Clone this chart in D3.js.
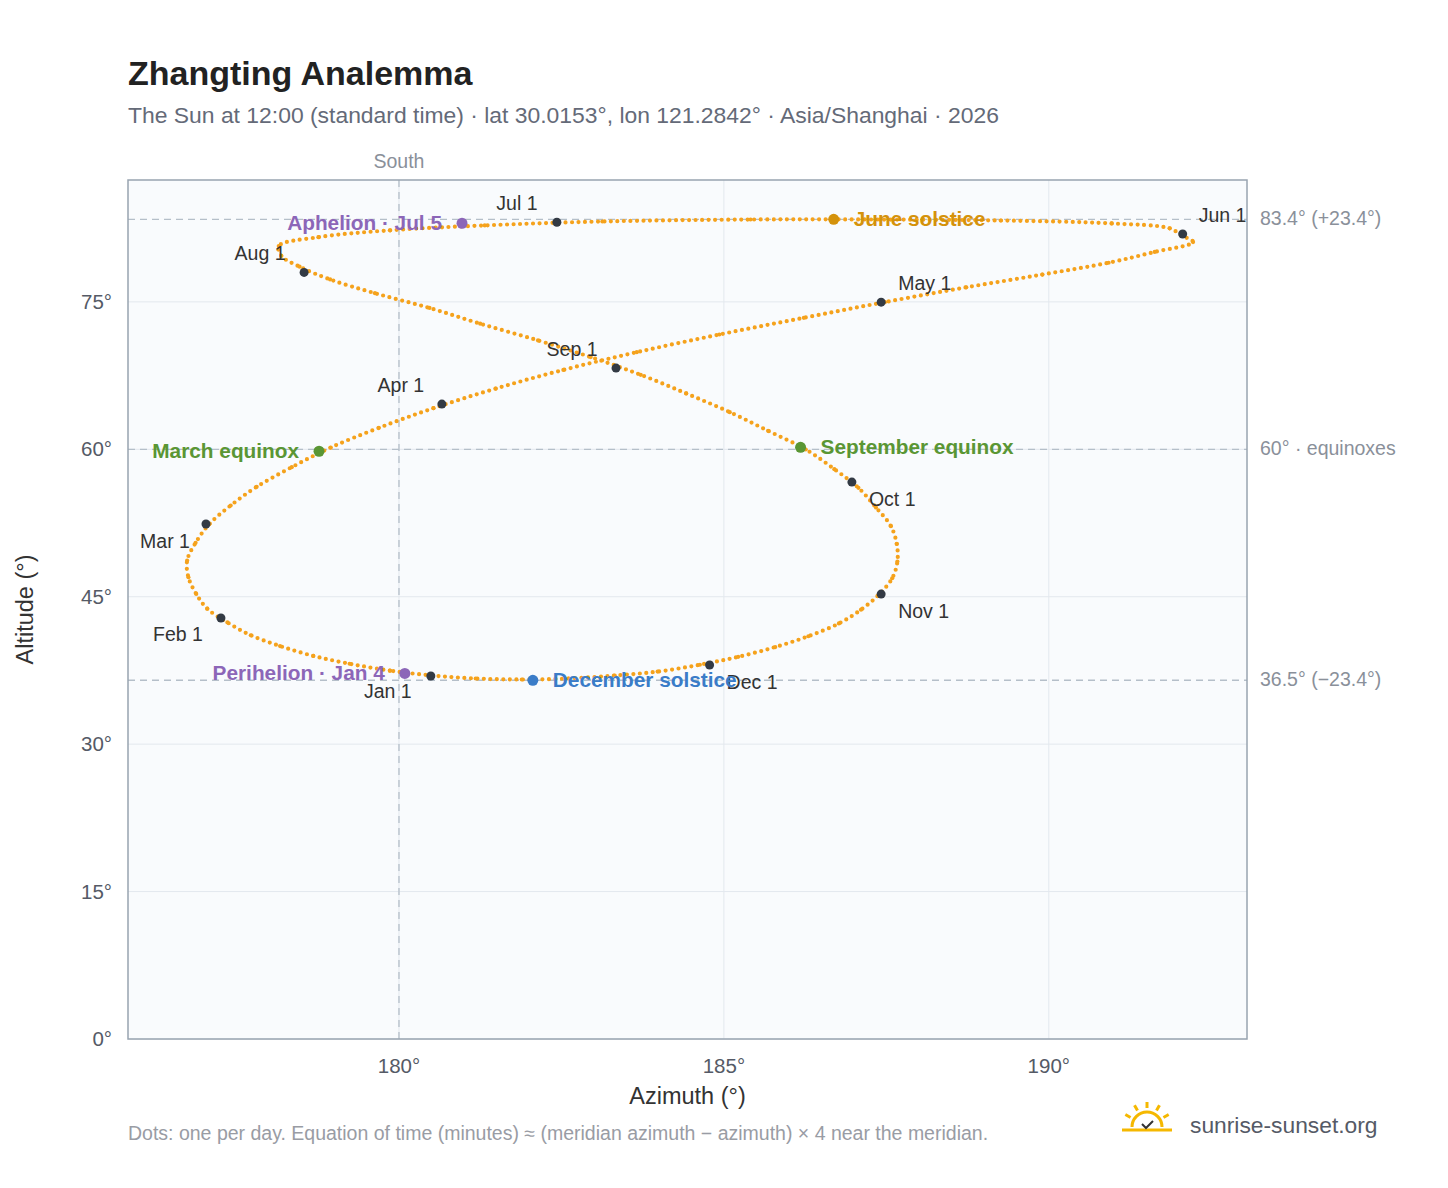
<!DOCTYPE html>
<html>
<head>
<meta charset="utf-8">
<script src="https://cdn.jsdelivr.net/npm/d3@7"></script>
<style>
  body { margin: 0; background: #fff; font-family: "Liberation Sans", Arial, sans-serif; }
</style>
</head>
<body>
<svg id="chart" width="1448" height="1188"></svg>
<script>
// sun position at 12:00, sampled every 5 days (azimuth °, altitude °)
const sampleAz = [180.52,179.86,179.24,178.68,178.17,177.72,177.36,177.05,176.88,176.76,176.74,176.87,177.08,177.41,177.81,178.35,178.95,179.69,180.53,181.49,182.53,183.66,184.93,186.23,187.48,188.73,189.90,190.92,191.63,192.22,192.04,191.86,190.97,189.26,187.40,185.41,183.13,181.32,179.86,178.76,178.15,178.19,178.47,178.94,179.63,180.47,181.25,182.14,182.95,183.72,184.42,185.09,185.68,186.26,186.70,187.07,187.34,187.57,187.66,187.67,187.59,187.38,187.11,186.77,186.30,185.79,185.22,184.63,183.98,183.32,182.61,181.89,181.18];
const sampleAlt = [36.98,37.48,38.18,38.98,39.98,41.08,42.38,43.78,45.28,46.98,48.68,50.48,52.38,54.28,56.18,58.18,60.18,62.18,64.18,66.18,68.08,69.88,71.68,73.38,74.98,76.48,77.78,78.98,80.08,81.08,81.78,82.48,82.98,83.28,83.38,83.38,83.18,82.78,82.28,81.58,80.68,79.68,78.58,77.28,75.88,74.38,72.78,71.08,69.38,67.58,65.68,63.78,61.88,59.98,57.98,56.08,54.08,52.18,50.38,48.58,46.88,45.18,43.68,42.28,40.98,39.88,38.88,38.08,37.38,36.98,36.68,36.58,36.68];

const monthLabels = ["Jan 1","Feb 1","Mar 1","Apr 1","May 1","Jun 1","Jul 1","Aug 1","Sep 1","Oct 1","Nov 1","Dec 1"];
const monthAz = [180.49,177.26,177.03,180.66,187.42,192.06,182.43,178.54,183.34,186.97,187.42,184.78];
const monthAlt = [36.93,42.83,52.4,64.6,74.97,81.9,83.1,78.0,68.26,56.66,45.27,38.05];
// label placement: [dx, dy, anchor]
const monthLabelPos = [[-43,16,"middle"],[-18,17,"end"],[-16,18,"end"],[-41,-18,"middle"],[17,-18,"start"],[16,-18,"start"],[-40,-18,"middle"],[-44,-18,"middle"],[-44,-18,"middle"],[17,18,"start"],[17,18,"start"],[17,18,"start"]];

const eventLabels = ["June solstice","March equinox","September equinox","December solstice","Aphelion · Jul 5","Perihelion · Jan 4"];
const eventAz = [186.69,178.77,186.18,182.06,180.97,180.09];
const eventAlt = [83.4,59.8,60.2,36.5,83.0,37.2];
const eventColors = ["#d4920b","#5a9634","#5a9634","#3a7cc8","#8c66b8","#8c66b8"];
const eventSide = ["start","end","start","start","end","end"];

const refAlts = [83.4,60,36.5];
const refLabels = ["83.4° (+23.4°)","60° · equinoxes","36.5° (−23.4°)"];
const xTicks = [180,185,190];
const yTicks = [0,15,30,45,60,75];

const svg = d3.select("#chart");
const m = {l:128, r:1247, t:180, b:1039};
const x = d3.scaleLinear().domain([175.83,193.05]).range([m.l,m.r]);
const y = d3.scaleLinear().domain([0,87.4]).range([m.b,m.t]);

svg.append("text").attr("x",128).attr("y",85).attr("font-size",34).attr("font-weight","bold").attr("fill","#222").text("Zhangting Analemma");
svg.append("text").attr("x",128).attr("y",123).attr("font-size",22.9).attr("fill","#646a78")
  .text("The Sun at 12:00 (standard time) · lat 30.0153°, lon 121.2842° · Asia/Shanghai · 2026");

svg.append("rect").attr("x",m.l).attr("y",m.t).attr("width",m.r-m.l).attr("height",m.b-m.t).attr("fill","#f9fbfd");

// grid
svg.selectAll(".gx").data(xTicks).join("line").attr("x1",d=>x(d)).attr("x2",d=>x(d)).attr("y1",m.t).attr("y2",m.b).attr("stroke","#e3e8ee");
svg.selectAll(".gy").data(yTicks).join("line").attr("y1",d=>y(d)).attr("y2",d=>y(d)).attr("x1",m.l).attr("x2",m.r).attr("stroke","#e3e8ee");

// reference lines
svg.selectAll(".ref").data(refAlts).join("line").attr("x1",m.l).attr("x2",m.r).attr("y1",d=>y(d)).attr("y2",d=>y(d))
  .attr("stroke","#b5bfc9").attr("stroke-width",1.3).attr("stroke-dasharray","7,5");
svg.selectAll(".refl").data(refLabels).join("text").attr("x",1260).attr("y",(d,i)=>y(refAlts[i])+6)
  .attr("font-size",19.5).attr("fill","#8a909a").text(d=>d);
svg.append("line").attr("x1",x(180)).attr("x2",x(180)).attr("y1",m.t).attr("y2",m.b)
  .attr("stroke","#b5bfc9").attr("stroke-width",1.3).attr("stroke-dasharray","7,5");
svg.append("text").attr("x",x(180)).attr("y",168).attr("text-anchor","middle").attr("font-size",19.5).attr("fill","#8a909a").text("South");

svg.append("rect").attr("x",m.l).attr("y",m.t).attr("width",m.r-m.l).attr("height",m.b-m.t).attr("fill","none").attr("stroke","#98a4b0").attr("stroke-width",1.5);

// axes labels
svg.selectAll(".xt").data(xTicks).join("text").attr("x",d=>x(d)).attr("y",1073).attr("text-anchor","middle")
  .attr("font-size",20.5).attr("fill","#555a66").text(d=>d+"°");
svg.selectAll(".yt").data(yTicks).join("text").attr("x",112).attr("y",d=>y(d)+7).attr("text-anchor","end")
  .attr("font-size",20.5).attr("fill","#555a66").text(d=>d+"°");
svg.append("text").attr("x",(m.l+m.r)/2).attr("y",1104).attr("text-anchor","middle").attr("font-size",23.5).attr("fill","#333").text("Azimuth (°)");
svg.append("text").attr("transform",`translate(33,${(m.t+m.b)/2}) rotate(-90)`).attr("text-anchor","middle").attr("font-size",23.5).attr("fill","#333").text("Altitude (°)");

// analemma: dotted closed curve through the samples, one dot per sample on top
svg.append("path").datum(sampleAz.map((d,i)=>[x(d),y(sampleAlt[i])]))
  .attr("d",d3.line().curve(d3.curveCatmullRomClosed))
  .attr("fill","none").attr("stroke","#f5a21c").attr("stroke-width",4.2)
  .attr("stroke-linecap","round").attr("stroke-dasharray","0 6.5");
svg.selectAll(".day").data(sampleAz).join("circle").attr("cx",d=>x(d)).attr("cy",(d,i)=>y(sampleAlt[i])).attr("r",2.1).attr("fill","#f5a21c");

// month markers
svg.selectAll(".mon").data(monthAz).join("circle").attr("cx",d=>x(d)).attr("cy",(d,i)=>y(monthAlt[i])).attr("r",4.5).attr("fill","#333a44");
svg.selectAll(".monl").data(monthLabels).join("text")
  .attr("x",(d,i)=>x(monthAz[i])+monthLabelPos[i][0]).attr("y",(d,i)=>y(monthAlt[i])+monthLabelPos[i][1]+6)
  .attr("text-anchor",(d,i)=>monthLabelPos[i][2]).attr("font-size",19.5).attr("fill","#333").text(d=>d);

// events
svg.selectAll(".ev").data(eventAz).join("circle").attr("cx",d=>x(d)).attr("cy",(d,i)=>y(eventAlt[i])).attr("r",5.5).attr("fill",(d,i)=>eventColors[i]);
svg.selectAll(".evl").data(eventLabels).join("text")
  .attr("x",(d,i)=>x(eventAz[i])+(eventSide[i]==="start"?20:-20)).attr("y",(d,i)=>y(eventAlt[i])+7)
  .attr("text-anchor",(d,i)=>eventSide[i]).attr("font-size",20.8).attr("font-weight","bold").attr("fill",(d,i)=>eventColors[i]).text(d=>d);

// footer
svg.append("text").attr("x",128).attr("y",1140).attr("font-size",19.5).attr("fill","#999ca4")
  .text("Dots: one per day. Equation of time (minutes) ≈ (meridian azimuth − azimuth) × 4 near the meridian.");
const logo = svg.append("g").attr("transform","translate(1147,1127)");
logo.append("path").attr("d","M-15,0 A15,15 0 0 1 15,0").attr("fill","none").attr("stroke","#f5b800").attr("stroke-width",3);
[-60,-30,0,30,60].forEach(a=>{const r=a*Math.PI/180;logo.append("line").attr("x1",Math.sin(r)*19).attr("y1",-Math.cos(r)*19).attr("x2",Math.sin(r)*25).attr("y2",-Math.cos(r)*25).attr("stroke","#f5b800").attr("stroke-width",3);});
logo.append("line").attr("x1",-25).attr("x2",25).attr("y1",3).attr("y2",3).attr("stroke","#f5b800").attr("stroke-width",3);
logo.append("path").attr("d","M-5,-3 L-1,1 L6,-6").attr("fill","none").attr("stroke","#333").attr("stroke-width",2);
svg.append("text").attr("x",1190).attr("y",1133).attr("font-size",22.8).attr("fill","#555a66").text("sunrise-sunset.org");
</script>
</body>
</html>
